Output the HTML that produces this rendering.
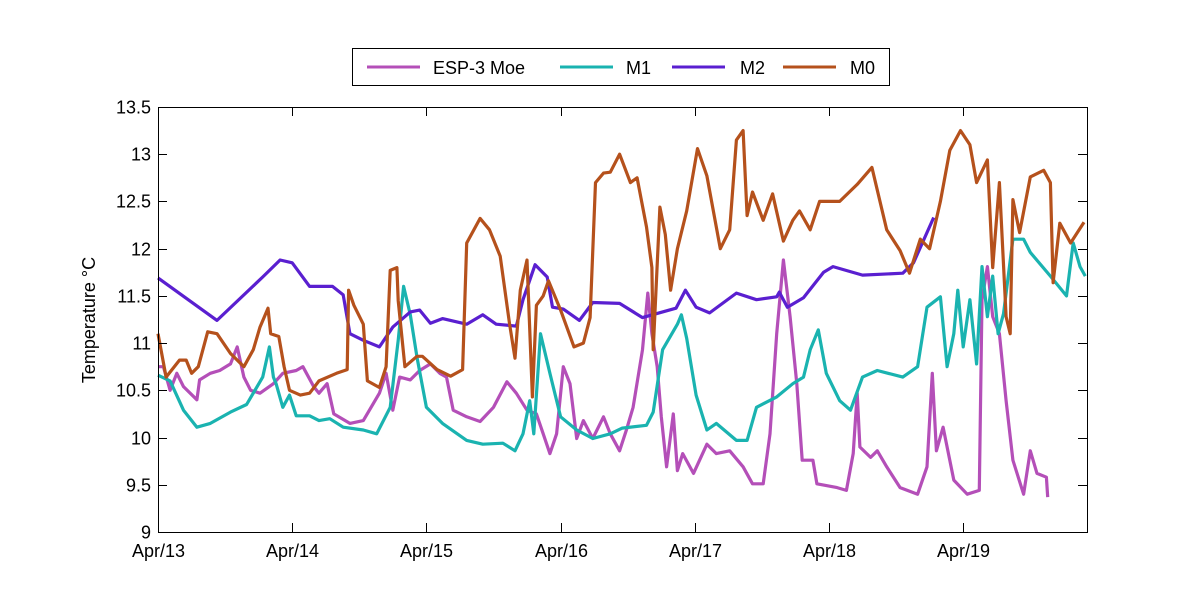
<!DOCTYPE html>
<html><head><meta charset="utf-8"><style>
html,body{margin:0;padding:0;background:#fff;}
svg{display:block;font-family:"Liberation Sans",Arial,sans-serif;}
</style></head><body>
<svg id="chart" width="1200" height="600" viewBox="0 0 1200 600">
<rect x="0" y="0" width="1200" height="600" fill="#fff"/>
<g id="series"></g>
<g id="axes"></g>
<text transform="translate(95,320) rotate(-90)" text-anchor="middle" font-size="18">Temperature °C</text>
<g>
<rect x="352.5" y="48.5" width="537" height="37" fill="#fff" stroke="#000" stroke-width="1"/>
<g><line x1="367" y1="67" x2="420" y2="67" stroke="#b44fb8" stroke-width="3"/><text x="433" y="74" font-size="18">ESP-3 Moe</text></g>
<g><line x1="560" y1="67" x2="613" y2="67" stroke="#1ab3b0" stroke-width="3"/><text x="626" y="74" font-size="18">M1</text></g>
<g><line x1="672" y1="67" x2="725" y2="67" stroke="#5a1fd0" stroke-width="3"/><text x="740" y="74" font-size="18">M2</text></g>
<g><line x1="783" y1="67" x2="836" y2="67" stroke="#b5511c" stroke-width="3"/><text x="850" y="74" font-size="18">M0</text></g>
</g>
</svg>
<script>
const yTicks=[9,9.5,10,10.5,11,11.5,12,12.5,13,13.5];
const xTickDays=[0,1,2,3,4,5,6];
const xTickLabels=["Apr/13","Apr/14","Apr/15","Apr/16","Apr/17","Apr/18","Apr/19"];
const espDays=[0,.04,.09,.14,.19,.29,.31,.39,.46,.54,.59,.64,.69,.76,.86,.93,1.03,1.08,1.16,1.2,1.26,1.31,1.43,1.53,1.65,1.7,1.75,1.8,1.88,1.95,2.03,2.1,2.15,2.2,2.3,2.4,2.5,2.6,2.67,2.75,2.82,2.87,2.92,2.97,3.02,3.07,3.12,3.17,3.24,3.32,3.37,3.44,3.49,3.54,3.61,3.65,3.68,3.72,3.75,3.79,3.84,3.87,3.91,3.99,4.09,4.16,4.26,4.36,4.43,4.51,4.56,4.61,4.66,4.71,4.76,4.8,4.88,4.91,5.06,5.13,5.18,5.21,5.23,5.31,5.36,5.43,5.53,5.66,5.73,5.77,5.8,5.85,5.93,6.03,6.12,6.14,6.18,6.22,6.27,6.32,6.37,6.45,6.5,6.55,6.62,6.63];
const espVals=[10.75,10.75,10.5,10.68,10.54,10.4,10.61,10.68,10.71,10.78,10.96,10.64,10.5,10.47,10.57,10.68,10.71,10.75,10.54,10.47,10.57,10.25,10.15,10.18,10.47,10.68,10.29,10.64,10.61,10.71,10.78,10.68,10.64,10.29,10.22,10.17,10.32,10.59,10.47,10.29,10.25,10.04,9.83,10.04,10.75,10.57,9.99,10.18,9.99,10.22,10.04,9.86,10.08,10.32,10.93,11.53,11.1,10.75,10.22,9.69,10.25,9.65,9.83,9.62,9.93,9.83,9.86,9.69,9.51,9.51,10.04,11.1,11.88,11.28,10.57,9.76,9.76,9.51,9.47,9.44,9.83,10.47,9.9,9.79,9.86,9.69,9.47,9.4,9.69,10.68,9.86,10.11,9.55,9.4,9.44,11.46,11.81,11.28,11.1,10.39,9.76,9.4,9.86,9.62,9.58,9.37];
const m1Days=[0,.09,.19,.29,.39,.54,.66,.78,.83,.86,.88,.93,.98,1.03,1.13,1.2,1.28,1.38,1.53,1.63,1.73,1.79,1.83,1.88,1.93,2.0,2.12,2.3,2.42,2.57,2.66,2.72,2.77,2.8,2.85,2.92,3.0,3.12,3.24,3.37,3.46,3.64,3.69,3.76,3.87,3.9,3.94,4.01,4.09,4.16,4.31,4.39,4.46,4.61,4.73,4.81,4.86,4.92,4.98,5.08,5.16,5.25,5.36,5.55,5.66,5.73,5.83,5.88,5.93,5.96,6.0,6.05,6.1,6.14,6.18,6.22,6.26,6.3,6.37,6.45,6.5,6.65,6.77,6.82,6.87,6.91];
const m1Vals=[10.66,10.6,10.29,10.11,10.15,10.27,10.35,10.64,10.96,10.64,10.57,10.32,10.45,10.23,10.23,10.18,10.2,10.11,10.08,10.04,10.32,11.03,11.6,11.3,10.85,10.32,10.15,9.97,9.93,9.94,9.86,10.04,10.39,10.04,11.1,10.68,10.22,10.08,9.99,10.04,10.1,10.13,10.27,10.93,11.2,11.3,11.05,10.45,10.08,10.15,9.97,9.97,10.32,10.43,10.57,10.64,10.93,11.14,10.68,10.39,10.29,10.64,10.71,10.64,10.75,11.38,11.49,10.75,11.1,11.56,10.96,11.46,10.78,11.81,11.28,11.71,11.1,11.31,12.1,12.1,11.96,11.71,11.5,12.06,11.81,11.71];
const m2Days=[0,.44,.78,.91,1.0,1.13,1.3,1.38,1.43,1.53,1.65,1.75,1.88,1.95,2.03,2.12,2.3,2.42,2.52,2.67,2.72,2.81,2.9,2.94,3.02,3.14,3.24,3.44,3.61,3.86,3.93,4.01,4.11,4.31,4.46,4.61,4.63,4.69,4.81,4.96,5.03,5.25,5.55,5.63,5.78];
const m2Vals=[11.69,11.24,11.7,11.88,11.85,11.6,11.6,11.51,11.1,11.03,10.96,11.17,11.33,11.35,11.21,11.26,11.2,11.3,11.2,11.18,11.46,11.83,11.7,11.38,11.36,11.24,11.43,11.42,11.27,11.37,11.56,11.38,11.32,11.53,11.46,11.49,11.54,11.38,11.48,11.75,11.81,11.72,11.74,11.85,12.33];
const m0Days=[0,.06,.16,.21,.25,.3,.37,.44,.54,.64,.71,.76,.82,.84,.9,.94,.98,1.06,1.13,1.2,1.33,1.41,1.42,1.46,1.53,1.56,1.65,1.7,1.73,1.78,1.79,1.84,1.93,1.97,2.08,2.18,2.27,2.3,2.4,2.47,2.55,2.62,2.66,2.7,2.75,2.79,2.82,2.87,2.91,3.0,3.1,3.17,3.22,3.26,3.32,3.37,3.44,3.52,3.57,3.64,3.68,3.69,3.74,3.78,3.82,3.87,3.94,4.02,4.09,4.19,4.26,4.31,4.36,4.39,4.43,4.51,4.58,4.66,4.73,4.78,4.86,4.93,5.08,5.21,5.32,5.43,5.53,5.6,5.68,5.75,5.83,5.9,5.98,6.05,6.1,6.18,6.22,6.27,6.32,6.35,6.37,6.42,6.5,6.6,6.65,6.67,6.72,6.8,6.85,6.9];
const m0Vals=[11.1,10.64,10.82,10.82,10.68,10.75,11.12,11.1,10.89,10.75,10.93,11.17,11.37,11.1,11.07,10.75,10.5,10.45,10.47,10.6,10.68,10.72,11.56,11.4,11.2,10.6,10.53,10.75,11.77,11.8,11.45,10.75,10.86,10.86,10.72,10.65,10.72,12.06,12.32,12.2,11.92,11.2,10.84,11.56,11.88,10.43,11.4,11.5,11.66,11.35,10.96,11.0,11.27,12.7,12.8,12.81,13.0,12.7,12.75,12.23,11.8,10.93,12.44,12.15,11.56,12.0,12.4,13.06,12.77,12.0,12.2,13.15,13.25,12.35,12.6,12.3,12.58,12.08,12.3,12.4,12.2,12.5,12.5,12.68,12.86,12.2,11.98,11.74,12.1,12.0,12.5,13.04,13.25,13.1,12.7,12.94,11.8,12.7,11.28,11.1,12.52,12.17,12.76,12.83,12.7,11.64,12.27,12.06,12.17,12.28];

const NS="http://www.w3.org/2000/svg";
const X0=158,X1=1087,Y0=532,Y1=107,DAYPX=134.2;
function xs(d){return X0+d*DAYPX;}
function ys(t){return Y0-(t-9)*(Y0-Y1)/4.5;}
const axes=document.getElementById('axes');
const series=document.getElementById('series');
function mk(tag,attrs,parent){const e=document.createElementNS(NS,tag);for(const k in attrs)e.setAttribute(k,attrs[k]);parent.appendChild(e);return e;}

function drawSeries(days,vals,color,name){
  let d='';
  for(let i=0;i<days.length;i++){d+=(i?'L':'M')+xs(days[i]).toFixed(1)+','+ys(vals[i]).toFixed(1);}
  const p=mk('path',{d:d,fill:'none',stroke:color,'stroke-width':3.2,'stroke-linejoin':'round'},series);
  
  
}
drawSeries(espDays,espVals,'#b44fb8','series-esp3-moe');
drawSeries(m1Days,m1Vals,'#1ab3b0','series-m1');
drawSeries(m2Days,m2Vals,'#5a1fd0','series-m2');
drawSeries(m0Days,m0Vals,'#b5511c','series-m0');

const frame=mk('rect',{x:X0+.5,y:Y1+.5,width:X1-X0,height:Y0-Y1,fill:'none',stroke:'#000','stroke-width':1},axes);


yTicks.forEach(t=>{
  const y=Math.round(ys(t))+.5;
  mk('line',{x1:X0,y1:y,x2:X0+9,y2:y,stroke:'#000'},axes);
  mk('line',{x1:X1-9,y1:y,x2:X1,y2:y,stroke:'#000'},axes);
  const tx=mk('text',{x:X0-7,y:y+6,'text-anchor':'end','font-size':18},axes);
  tx.textContent=String(t);
  
  
});
xTickDays.forEach((d,i)=>{
  const x=Math.round(xs(d))+.5;
  mk('line',{x1:x,y1:Y0,x2:x,y2:Y0-9,stroke:'#000'},axes);
  mk('line',{x1:x,y1:Y1,x2:x,y2:Y1+9,stroke:'#000'},axes);
  const tx=mk('text',{x:x,y:Y0+25,'text-anchor':'middle','font-size':18},axes);
  tx.textContent=xTickLabels[i];
  
  
});
</script>
</body></html>
